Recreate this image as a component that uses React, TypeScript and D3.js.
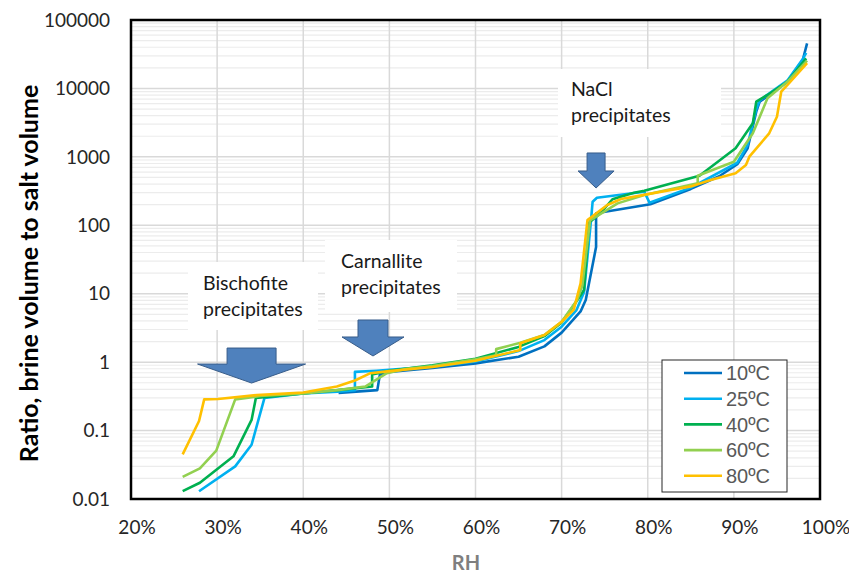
import React from "react";
import * as d3 from "d3";

const seriesNames = ["10ºC", "25ºC", "40ºC", "60ºC", "80ºC"];
const seriesColors = ["#0070c0", "#00b0f0", "#00b050", "#92d050", "#ffc000"];

const rh10 = [44.1, 48.6, 48.9, 50, 55, 60, 65, 68, 70, 72.2, 72.8, 74.0, 74.0, 80.3, 85, 88.3, 90.4, 91.6, 92.6, 93.0, 96.2, 98.0, 98.5];
const v10 = [0.355, 0.39, 0.66, 0.72, 0.82, 0.96, 1.2, 1.7, 2.7, 5.5, 8.1, 48, 150, 203, 340, 520, 780, 1334, 4570, 6400, 12500, 26000, 45600];

const rh25 = [27.9, 32.1, 34.0, 35.5, 40, 44, 46.0, 46.0, 48.5, 50, 55, 60, 65, 68, 70, 71.7, 72.6, 73.4, 73.6, 74.1, 79.6, 80.2, 85, 90.4, 91.6, 92.6, 93.0, 96.2, 98.0, 98.4];
const v25 = [0.013, 0.030, 0.062, 0.30, 0.35, 0.37, 0.39, 0.72, 0.75, 0.77, 0.86, 1.02, 1.45, 2.1, 3.3, 5.7, 10.5, 114, 221, 253, 309, 214, 355, 820, 1500, 5000, 6700, 13000, 27000, 33000];

const rh40 = [26.0, 28.0, 31.9, 34.0, 34.5, 40, 44, 48.0, 48.0, 50, 55, 60, 65, 68, 70, 71.5, 72.6, 73.2, 74.5, 75.9, 78.4, 79.6, 86.0, 90.2, 92.2, 92.6, 93.9, 96.2, 98.4];
const v40 = [0.013, 0.0173, 0.042, 0.143, 0.30, 0.35, 0.39, 0.44, 0.66, 0.75, 0.9, 1.12, 1.67, 2.4, 3.8, 7, 11.3, 110, 150, 240, 299, 320, 530, 1334, 3090, 6400, 8020, 12500, 27500];

const rh60 = [26.0, 28.0, 29.9, 32.1, 35, 40, 44, 47.2, 49.7, 52, 55, 60, 62.4, 62.4, 65.2, 68, 70, 71.8, 72.4, 73.3, 76.5, 79.6, 85.8, 85.8, 90.0, 92.2, 93.9, 96.2, 98.5];
const v60 = [0.021, 0.028, 0.051, 0.286, 0.32, 0.35, 0.39, 0.44, 0.69, 0.8, 0.88, 1.1, 1.26, 1.55, 1.92, 2.5, 3.9, 8.1, 13, 118, 209, 277, 410, 531, 850, 2210, 7180, 12500, 25500];

const rh80 = [26.0, 27.9, 28.5, 30.1, 34.6, 40, 43.9, 46.0, 47.8, 50, 55, 60, 65.2, 65.2, 68, 70, 71.4, 72.2, 73.0, 75.3, 76.9, 85.0, 87.3, 90.2, 91.4, 91.8, 94.1, 95.0, 95.5, 96.2, 98.5];
const v80 = [0.045, 0.138, 0.286, 0.29, 0.33, 0.36, 0.44, 0.54, 0.69, 0.74, 0.85, 1.05, 1.5, 1.89, 2.5, 3.9, 5.8, 14.2, 119, 198, 242, 370, 459, 575, 760, 1005, 2210, 3860, 8950, 11200, 23500];

const seriesRH = [rh10, rh25, rh40, rh60, rh80];
const seriesV = [v10, v25, v40, v60, v80];

const xTicks = [20, 30, 40, 50, 60, 70, 80, 90, 100];
const yTicks = [0.01, 0.1, 1, 10, 100, 1000, 10000, 100000];
const yTickLabels = ["0.01", "0.1", "1", "10", "100", "1000", "10000", "100000"];

// annotations: label lines and arrow tip (RH, ratio)
const annLines = [["NaCl", "precipitates"], ["Carnallite", "precipitates"], ["Bischofite", "precipitates"]];
const annArrowRH = [74.0, 48.1, 34.0];
const annArrowV = [351, 1.23, 0.495];

const W = 849, H = 575;
const L = 131, R = 820, T = 20, B = 499;

export default function App() {
  const x = d3.scaleLinear().domain([20, 100]).range([L, R]);
  const y = d3.scaleLog().domain([0.01, 100000]).range([B, T]);
  const line = d3.line<[number, number]>().x(d => x(d[0])).y(d => y(d[1]));

  const minor: number[] = [];
  for (let e = -2; e < 5; e++) for (let m = 2; m <= 9; m++) minor.push(m * Math.pow(10, e));

  const font = "Lato, 'Open Sans', sans-serif";

  const boxes = [
    { x0: 558, y0: 69, w: 163, h: 68, tx: 571, ty: 96 },
    { x0: 325, y0: 240, w: 132, h: 72, tx: 341, ty: 268 },
    { x0: 188, y0: 262, w: 130, h: 68, tx: 203, ty: 290 },
  ];
  const arrowSizes = [
    { sw: 18, hw: 36, sh: 18, hh: 17 },
    { sw: 30, hw: 62, sh: 17, hh: 19 },
    { sw: 49, hw: 108, sh: 16, hh: 19 },
  ];

  const arrowPath = (i: number) => {
    const tx = x(annArrowRH[i]);
    const ty = y(annArrowV[i]);
    const s = arrowSizes[i];
    const top = ty - s.hh - s.sh;
    const neck = ty - s.hh;
    return `M${tx - s.sw / 2},${top} L${tx + s.sw / 2},${top} L${tx + s.sw / 2},${neck} L${tx + s.hw / 2},${neck} L${tx},${ty} L${tx - s.hw / 2},${neck} L${tx - s.sw / 2},${neck} Z`;
  };

  const legX = 662, legY = 360, legW = 125, legH = 132;

  return (
    <svg width={W} height={H} style={{ position: "absolute", left: 0, top: 0, background: "#fff" }}>
      <rect x={0} y={0} width={W} height={H} fill="#fff" />
      {minor.map((m, i) => (
        <line key={"mn" + i} x1={L} x2={R} y1={y(m)} y2={y(m)} stroke="#ececec" strokeWidth={1.2} />
      ))}
      {yTicks.map((t, i) => (
        <line key={"my" + i} x1={L} x2={R} y1={y(t)} y2={y(t)} stroke="#d9d9d9" strokeWidth={1.5} />
      ))}
      {xTicks.map((t, i) => (
        <line key={"mx" + i} x1={x(t)} x2={x(t)} y1={T} y2={B} stroke="#d9d9d9" strokeWidth={1.5} />
      ))}
      {boxes.map((b, i) => (
        <g key={"ab" + i}>
          <rect x={b.x0} y={b.y0} width={b.w} height={b.h} fill="#fff" />
          {annLines[i].map((s, j) => (
            <text key={j} x={b.tx} y={b.ty + j * 25.5} fontFamily={font} fontSize={19.5} fill="#1a1a1a">{s}</text>
          ))}
        </g>
      ))}
      {seriesRH.map((rh, si) => (
        <path key={"s" + si} d={line(rh.map((r, k) => [r, seriesV[si][k]]) as [number, number][]) || ""}
          fill="none" stroke={seriesColors[si]} strokeWidth={2.6} strokeLinejoin="round" />
      ))}
      {annArrowRH.map((_, i) => (
        <path key={"ar" + i} d={arrowPath(i)} fill="#4f81bd" stroke="#385d8a" strokeWidth={1} />
      ))}
      <rect x={L} y={T} width={R - L} height={B - T} fill="none" stroke="#000" strokeWidth={2.5} />
      {yTicks.map((t, i) => (
        <text key={"yl" + i} x={110} y={y(t)} dy="0.35em" textAnchor="end" fontFamily={font} fontSize={19} fill="#262626">{yTickLabels[i]}</text>
      ))}
      {xTicks.map((t, i) => (
        <text key={"xl" + i} x={x(t) + 6} y={534} textAnchor="middle" fontFamily={font} fontSize={19} fill="#262626">{t + "%"}</text>
      ))}
      <text transform={`translate(38,${(T + B) / 2 + 14}) rotate(-90)`} textAnchor="middle" fontFamily={font} fontWeight="bold" fontSize={25} fill="#000">Ratio, brine volume to salt volume</text>
      <text x={466} y={570} textAnchor="middle" fontFamily={font} fontWeight="bold" fontSize={20} fill="#7f7f7f">RH</text>
      <rect x={legX} y={legY} width={legW} height={legH} fill="#fff" stroke="#262626" strokeWidth={1} />
      {seriesNames.map((n, i) => (
        <g key={"lg" + i}>
          <line x1={legX + 22} x2={legX + 60} y1={legY + 13 + i * 25.7} y2={legY + 13 + i * 25.7} stroke={seriesColors[i]} strokeWidth={2.6} />
          <text x={legX + 64} y={legY + 13 + i * 25.7} dy="0.36em" fontFamily="'Liberation Sans', Arial, sans-serif" fontSize={20} fill="#595959">{n}</text>
        </g>
      ))}
    </svg>
  );
}
